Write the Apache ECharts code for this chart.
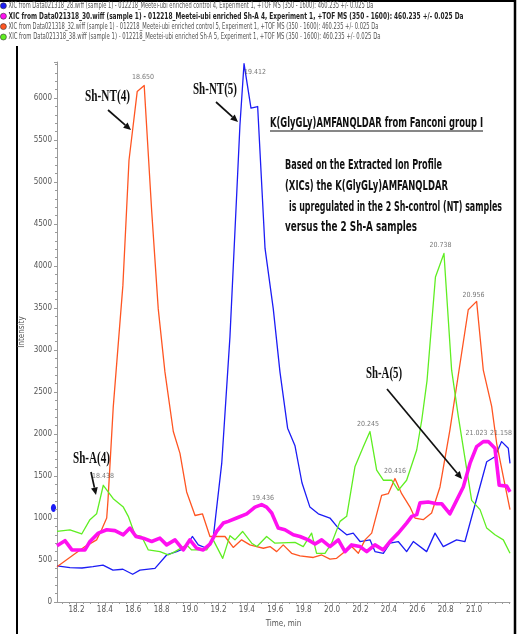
<!DOCTYPE html>
<html><head><meta charset="utf-8">
<script src="https://cdn.jsdelivr.net/npm/echarts@6/dist/echarts.min.js"></script>
<style>html,body{margin:0;padding:0;background:#fff}#c{width:520px;height:634px}</style>
</head><body><div id="c"></div>
<script>
// ---- data ----
const blueTimes = [18.063,18.154,18.239,18.316,18.387,18.457,18.527,18.596,18.647,18.753,18.835,18.906,18.964,19.016,19.058,19.117,19.163,19.223,19.281,19.328,19.351,19.380,19.429,19.476,19.528,19.586,19.633,19.687,19.739,19.788,19.844,19.903,19.985,20.044,20.103,20.149,20.197,20.267,20.302,20.361,20.408,20.466,20.525,20.572,20.666,20.725,20.783,20.877,20.936,21.089,21.147,21.194,21.241,21.253];
const blueValues = [430,410,405,420,440,380,390,330,380,400,560,600,640,780,680,640,760,1650,3160,4840,5670,6410,5880,5900,4210,3490,2740,2070,1860,1420,1130,1050,1000,880,800,820,720,740,600,580,700,720,600,720,600,820,660,740,720,1670,1730,1910,1830,1650];

const magentaTimes = [18.063,18.119,18.168,18.260,18.295,18.354,18.413,18.471,18.530,18.577,18.619,18.670,18.730,18.788,18.835,18.894,18.952,18.999,19.046,19.093,19.140,19.187,19.234,19.269,19.328,19.399,19.457,19.504,19.539,19.575,19.621,19.668,19.727,19.774,19.832,19.880,19.927,19.985,20.044,20.091,20.138,20.196,20.244,20.302,20.361,20.408,20.466,20.525,20.561,20.596,20.619,20.677,20.737,20.772,20.830,20.877,20.924,20.971,21.018,21.065,21.100,21.147,21.177,21.230,21.253];
const magentaValues = [670,730,620,620,720,820,860,850,800,880,780,760,720,760,680,740,620,740,640,620,690,840,940,960,1000,1050,1130,1160,1130,1060,880,860,800,780,740,690,740,660,740,600,680,660,600,680,620,720,820,940,1020,1040,1180,1190,1170,1170,1050,1210,1370,1650,1850,1910,1910,1830,1390,1380,1310];

const orangeTimes = [18.063,18.177,18.260,18.342,18.377,18.413,18.422,18.459,18.527,18.553,18.570,18.628,18.677,18.730,18.776,18.823,18.882,18.929,18.976,19.035,19.087,19.140,19.246,19.304,19.363,19.422,19.469,19.516,19.563,19.610,19.656,19.715,19.774,19.868,19.927,19.985,20.032,20.091,20.138,20.185,20.232,20.279,20.349,20.396,20.443,20.490,20.549,20.584,20.642,20.701,20.760,20.830,20.959,21.018,21.065,21.124,21.159,21.206,21.253];
const orangeValues = [420,560,660,740,860,1000,1210,2320,3770,4670,5260,6080,6150,4650,3490,2740,2030,1770,1310,1030,1050,780,780,650,740,680,660,640,660,600,680,580,550,530,560,510,520,600,660,580,740,820,1270,1290,1470,1290,1130,1000,980,1060,1370,2050,3480,3580,2760,2330,1890,1490,1100];

const greenTimes = [18.063,18.154,18.237,18.295,18.342,18.389,18.459,18.530,18.565,18.612,18.659,18.706,18.788,18.846,18.894,18.976,19.011,19.117,19.163,19.230,19.281,19.316,19.370,19.434,19.471,19.539,19.598,19.739,19.797,19.856,19.891,19.950,19.997,20.056,20.103,20.161,20.220,20.267,20.314,20.361,20.420,20.466,20.525,20.596,20.632,20.669,20.728,20.788,20.842,20.889,20.983,21.042,21.089,21.147,21.206,21.253];
const greenValues = [840,860,810,980,1050,1390,1230,1130,1020,800,780,620,600,560,600,680,620,620,740,520,790,740,840,700,660,780,700,710,660,820,580,580,700,960,1020,1610,1850,2030,1570,1450,1450,1330,1450,1810,2170,2640,3870,4150,2760,2210,1210,1100,880,800,740,580];

const seriesNames = [
  'XIC from Data021318_28.wiff (sample 1) - 012218_Meetei-ubi enriched control 4, Experiment 1, +TOF MS (350 - 1600): 460.235 +/- 0.025 Da',
  'XIC from Data021318_30.wiff (sample 1) - 012218_Meetei-ubi enriched Sh-A 4, Experiment 1, +TOF MS (350 - 1600): 460.235 +/- 0.025 Da',
  'XIC from Data021318_32.wiff (sample 1) - 012218_Meetei-ubi enriched control 5, Experiment 1, +TOF MS (350 - 1600): 460.235 +/- 0.025 Da',
  'XIC from Data021318_38.wiff (sample 1) - 012218_Meetei-ubi enriched Sh-A 5, Experiment 1, +TOF MS (350 - 1600): 460.235 +/- 0.025 Da'
];

const xTickLabels = [18.2,18.4,18.6,18.8,19.0,19.2,19.4,19.6,19.8,20.0,20.2,20.4,20.6,20.8,21.0];

const peakTexts  = ['18.650','19.412','18.438','19.436','20.245','20.416','20.738','20.956','21.023','21.158'];
const peakTimes  = [18.668,19.457,18.387,19.513,20.253,20.443,20.764,20.996,21.017,21.189];
const peakLevels = [6250,6310,1500,1240,2120,1560,4250,3650,2010,2010];

// ---- presentation ----
const colors = ['#1c1cf5','#ff10f0','#ff5522','#5fee22'];
const widths = [1.3,3.6,1.3,1.3];
const narrow = '"Liberation Sans Narrow","DejaVu Sans Condensed","Liberation Sans",sans-serif';

const zip = (t, v) => t.map((x, i) => [x, v[i]]);
const seriesData = [zip(blueTimes, blueValues), zip(magentaTimes, magentaValues), zip(orangeTimes, orangeValues), zip(greenTimes, greenValues)];

const xMin = 18.063, xMax = 21.253;
const minorTicks = [];
for (let k = Math.ceil(xMin / 0.05); k * 0.05 <= xMax + 1e-9; k++) minorTicks.push(+(k * 0.05).toFixed(2));

const mctx = document.createElement('canvas').getContext('2d');
function fitText(text, font, left, cy, width, fill) {
  mctx.font = font;
  const w = mctx.measureText(text).width;
  return {type: 'text', x: left, y: cy, scaleX: width / w, silent: true, z: 100,
    style: {text: text, font: font, fill: fill || '#111', textVerticalAlign: 'middle', verticalAlign: 'middle'}};
}
function arrow(x1, y1, x2, y2) {
  const a = Math.atan2(y2 - y1, x2 - x1), L = 7.5, W = 3.4;
  const bx = x2 - L * Math.cos(a), by = y2 - L * Math.sin(a);
  return [
    {type: 'line', silent: true, z: 100, shape: {x1: x1, y1: y1, x2: bx, y2: by}, style: {stroke: '#111', lineWidth: 1.7}},
    {type: 'polygon', silent: true, z: 100, shape: {points: [[x2, y2], [bx + W * Math.sin(a), by - W * Math.cos(a)], [bx - W * Math.sin(a), by + W * Math.cos(a)]]}, style: {fill: '#111'}}
  ];
}

const legendRows = [
  {y: 5.8, w: 365, bold: false},
  {y: 16.2, w: 455, bold: true},
  {y: 26.6, w: 370, bold: false},
  {y: 37.0, w: 372, bold: false}
];
const graphics = [];
legendRows.forEach((r, i) => {
  graphics.push({type: 'circle', silent: true, z: 100, shape: {cx: 3.4, cy: r.y, r: 3}, style: {fill: colors[i], stroke: '#333', lineWidth: 0.6}});
  graphics.push(fitText(seriesNames[i], (r.bold ? 'bold ' : '') + '9px ' + narrow, 8.5, r.y, r.w, r.bold ? '#222' : '#555'));
});
// frame
graphics.push({type: 'line', silent: true, shape: {x1: 0, y1: 1, x2: 516, y2: 1}, style: {stroke: '#000', lineWidth: 2}});
graphics.push({type: 'line', silent: true, shape: {x1: 515, y1: 0, x2: 515, y2: 634}, style: {stroke: '#000', lineWidth: 2.5}});
graphics.push({type: 'line', silent: true, shape: {x1: 17, y1: 46, x2: 17, y2: 634}, style: {stroke: '#000', lineWidth: 2}});
// current-trace marker on y axis
graphics.push({type: 'ellipse', silent: true, shape: {cx: 53.5, cy: 508, rx: 2.6, ry: 4}, style: {fill: '#1c1cf5'}});
// annotations
const serifB = 'bold 17px "Liberation Serif","Times New Roman",serif';
graphics.push(fitText('Sh-NT(4)', serifB, 85, 97, 45));
graphics.push(fitText('Sh-NT(5)', serifB, 193, 90, 44));
graphics.push(fitText('Sh-A(4)', serifB, 73, 459, 37));
graphics.push(fitText('Sh-A(5)', serifB, 366, 374, 36));
graphics.push(...arrow(108, 110, 131, 130));
graphics.push(...arrow(216, 102, 238, 122));
graphics.push(...arrow(91, 472, 96, 495));
graphics.push(...arrow(387, 389, 462, 479));
const boldNarrow = 'bold 14px ' + narrow;
graphics.push(fitText('K(GlyGLy)AMFANQLDAR from Fanconi group I', boldNarrow, 270, 123, 213));
graphics.push({type: 'line', silent: true, z: 100, shape: {x1: 270, y1: 131, x2: 483, y2: 131}, style: {stroke: '#111', lineWidth: 1.2}});
graphics.push(fitText('Based on the Extracted Ion Profile', boldNarrow, 285, 165, 157));
graphics.push(fitText('(XICs) the K(GlyGLy)AMFANQLDAR', boldNarrow, 285, 186, 163));
graphics.push(fitText('is upregulated in the 2 Sh-control (NT) samples', boldNarrow, 289, 207, 213));
graphics.push(fitText('versus the 2 Sh-A samples', boldNarrow, 285, 227, 132));

const chart = echarts.init(document.getElementById('c'), null, {renderer: 'canvas'});
const axisGray = '#9a9a9a';
const series = seriesData.map((d, i) => ({
  name: seriesNames[i], type: 'line', data: d, showSymbol: false, symbol: 'none',
  lineStyle: {color: colors[i], width: widths[i], join: 'round'}, itemStyle: {color: colors[i]},
  z: i === 1 ? 4 : 3, animation: false
}));
series.push({
  name: 'peaks', type: 'scatter', symbolSize: 0, silent: true, z: 6, animation: false,
  data: peakTimes.map((t, i) => [t, peakLevels[i]]),
  label: {show: true, position: 'inside', formatter: p => peakTexts[p.dataIndex], color: '#555', fontSize: 7, fontFamily: narrow}
});

chart.setOption({
  animation: false,
  backgroundColor: '#fff',
  grid: {left: 57, right: 10, top: 62, bottom: 32},
  xAxis: [{
    type: 'value', min: xMin, max: xMax,
    name: 'Time, min', nameLocation: 'middle', nameGap: 18,
    nameTextStyle: {color: '#555', fontSize: 8, fontFamily: narrow},
    axisLine: {lineStyle: {color: axisGray}},
    axisTick: {customValues: xTickLabels, length: 4, lineStyle: {color: axisGray}},
    axisLabel: {customValues: xTickLabels, color: '#555', fontSize: 8, fontFamily: narrow, margin: 4, formatter: v => v.toFixed(1)},
    splitLine: {show: false}
  }, {
    type: 'value', min: xMin, max: xMax, position: 'bottom',
    axisLine: {show: false},
    axisTick: {customValues: minorTicks, length: 2, lineStyle: {color: axisGray}},
    axisLabel: {show: false}, splitLine: {show: false}
  }],
  yAxis: {
    type: 'value', min: 0, max: 6430, interval: 500,
    name: 'Intensity', nameLocation: 'middle', nameGap: 31, nameMoveOverlap: false,
    nameTextStyle: {color: '#555', fontSize: 8, fontFamily: narrow},
    axisLine: {show: true, lineStyle: {color: axisGray}},
    axisTick: {show: true, length: 3, lineStyle: {color: axisGray}},
    minorTick: {show: true, splitNumber: 5, length: 2, lineStyle: {color: axisGray}},
    axisLabel: {color: '#555', fontSize: 8, fontFamily: narrow, margin: 5, showMaxLabel: false, formatter: v => String(v)},
    splitLine: {show: false}
  },
  series: series,
  graphic: graphics
});
</script></body></html>
